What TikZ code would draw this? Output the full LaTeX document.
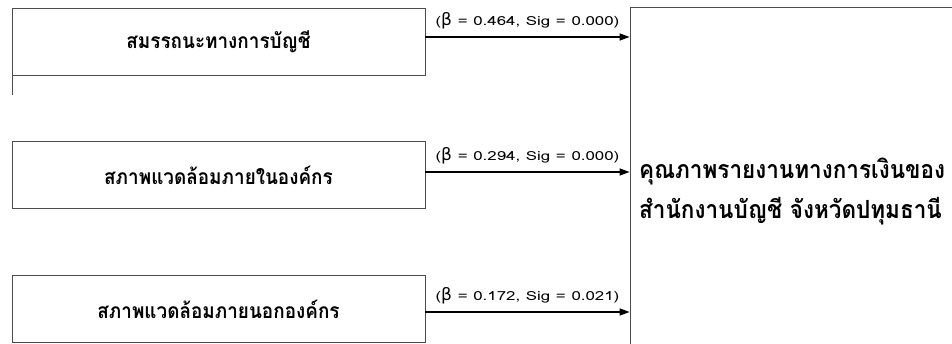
\documentclass[tikz,border=0pt]{standalone}
\usepackage{fontspec}
\setmainfont{Loma}[Script=Thai]
\newfontfamily\thaib{Loma}[Script=Thai, FakeStretch=0.9]
\newfontfamily\labfont{Loma}[FakeStretch=1.35]
\newfontfamily\grk{DejaVu Sans}
\usetikzlibrary{arrows.meta,positioning}

\tikzset{
  factor/.style={draw=black!70, line width=0.8pt, minimum width=413pt, minimum height=67pt,
    inner sep=0pt, font=\thaib\fontsize{21}{25}\selectfont\bfseries},
  effect/.style={-{Triangle[length=10pt,width=7pt]}, line width=1.3pt},
  coef/.style={above=7pt, font=\labfont\fontsize{12.5}{14}\selectfont, inner sep=0pt}
}
\newcommand{\bet}{{\grk\fontsize{17}{17}\selectfont β}}

\begin{document}
\begin{tikzpicture}[x=1pt,y=-1pt]
	\useasboundingbox (0,0) rectangle (952,344);
	\clip (0,0) rectangle (952,344);

	\node[factor] (s1) at (218.5,42) {สมรรถนะทางการบัญชี};
	\node[factor] (s2) at (218.5,175) {สภาพแวดล้อมภายในองค์กร};
	\node[factor] (s3) at (218.5,309) {สภาพแวดล้อมภายนอกองค์กร};

	\node[draw=black!70, line width=0.8pt, minimum width=400pt, minimum height=400pt] (q) at (830,207) {};
	\node[anchor=west, align=left, inner sep=0pt, font=\thaib\fontsize{25}{40}\selectfont\bfseries] (qt) at (639,192)
		{คุณภาพรายงานทางการเงินของ\\สำนักงานบัญชี จังหวัดปทุมธานี};

	% stray tick on the left
	\coordinate (t1) at (12,50);
	\coordinate (t2) at (12,95);
	\draw[black!70, line width=0.8pt] (t1) -- (t2);

	\draw[effect] ([yshift=5pt]s1.east) -- ([yshift=5pt]s1.east -| q.west)
		node[coef, midway] (c1) {(\bet{} = 0.464, Sig = 0.000)};
	\draw[effect] ([yshift=3pt]s2.east) -- ([yshift=3pt]s2.east -| q.west)
		node[coef, midway] (c2) {(\bet{} = 0.294, Sig = 0.000)};
	\draw[effect] ([yshift=-3pt]s3.east) -- ([yshift=-3pt]s3.east -| q.west)
		node[coef, midway] (c3) {(\bet{} = 0.172, Sig = 0.021)};
\end{tikzpicture}
\end{document}
